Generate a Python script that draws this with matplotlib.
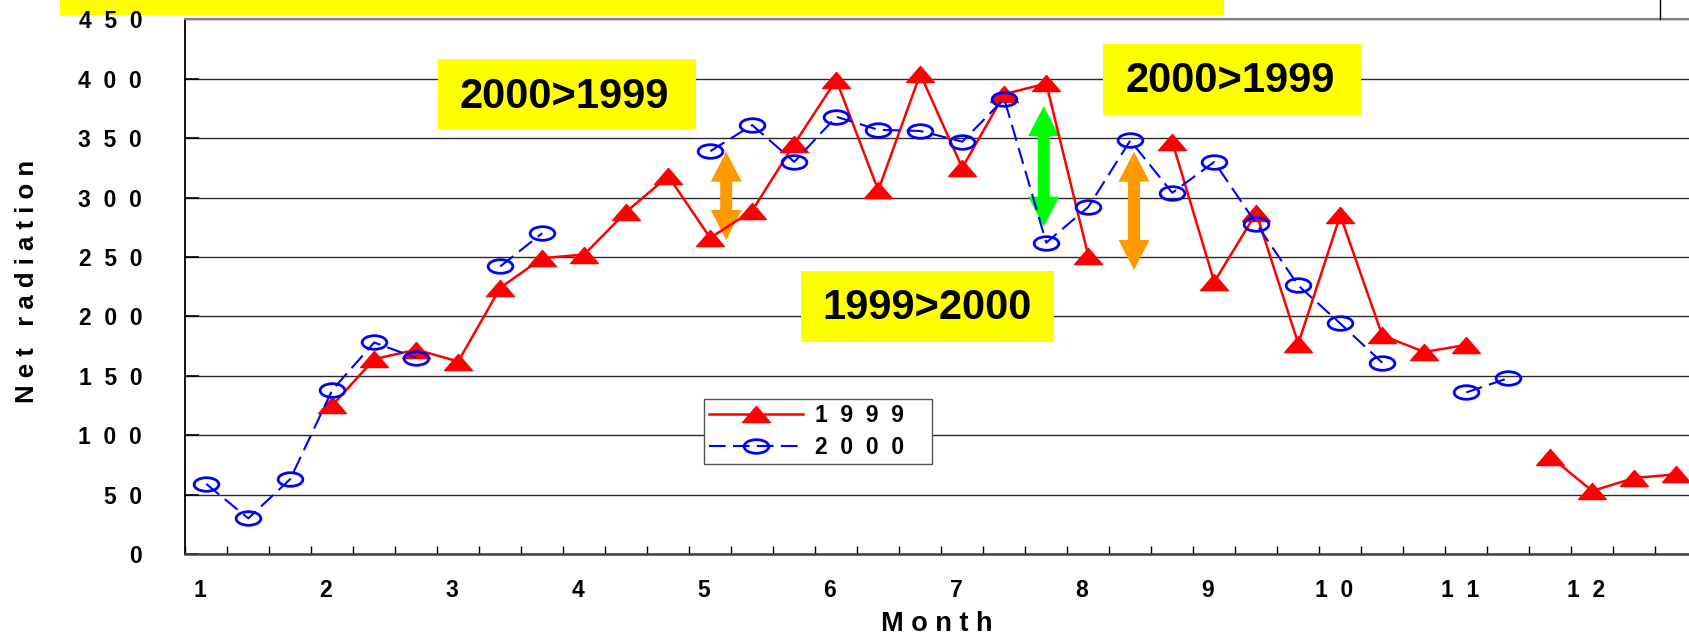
import numpy as np
import matplotlib
matplotlib.use("Agg")
import matplotlib.pyplot as plt
from matplotlib.path import Path
from matplotlib.patches import Rectangle, Polygon
from matplotlib.transforms import Affine2D
from matplotlib.lines import Line2D

plt.rcParams["font.family"] = ["Liberation Sans", "DejaVu Sans"]

nan = np.nan

# 36 dekads (10-day periods), Jan to Dec
dekads = np.arange(36)
month_labels = ["1", "2", "3", "4", "5", "6", "7", "8", "9", "1  0", "1  1", "1  2"]
ytick_values = [0, 50, 100, 150, 200, 250, 300, 350, 400, 450]
ytick_labels = ["0", "5  0", "1  0  0", "1  5  0", "2  0  0", "2  5  0",
                "3  0  0", "3  5  0", "4  0  0", "4  5  0"]

net_1999 = [nan, nan, nan, 125, 164, 172, 162, 224, 249, 252, 288, 318,
            266, 289, 345, 399, 306, 404, 325, 387, 396, 251, nan, 347,
            229, 287, 177, 285, 184, 170, 176, nan, 82, 53, 64, 67]
net_2000 = [59, 30, 63, 138, 178, 165, nan, 242, 270, nan, nan, nan,
            339, 361, 330, 368, 357, 356, 347, 383, 262, 292, 348, 304,
            330, 278, 226, 194, 161, nan, 136, 148, nan, nan, nan, nan]

fig = plt.figure(figsize=(16.9, 6.37), dpi=100)
# plot area runs past the right edge of the picture (cut off like the original)
ax = fig.add_axes([0.1096, 0.1303, 0.8947, 0.8394])

# flattened markers like the stretched original
tri = Path([(-1, -0.58), (1, -0.58), (0, 0.58), (-1, -0.58)],
           [Path.MOVETO, Path.LINETO, Path.LINETO, Path.CLOSEPOLY])
ell = Affine2D().scale(1, 0.55).transform_path(Path.unit_circle())

ax.plot(dekads, net_1999, color="red", lw=1.8, marker=tri, ms=20,
        mfc="red", mec="red", label="1  9  9  9", zorder=3)
ax.plot(dekads, net_2000, color="blue", lw=1.5, ls=(0, (8, 3.5)), marker=ell, ms=17.8,
        mfc="none", mec="blue", mew=2.0, label="2  0  0  0", zorder=3)

ax.set_xlim(-0.5, 35.5)
ax.set_ylim(0, 450)

ax.set_yticks(ytick_values)
ax.set_yticklabels(ytick_labels, fontweight="bold")
ax.set_xticks(dekads[::3] - 0.15)
ax.set_xticklabels(month_labels, fontweight="bold")
ax.set_xticks(np.arange(-0.5, 36, 1), minor=True)
ax.tick_params(axis="x", which="major", length=0, pad=18, labelsize=16.5)
ax.tick_params(axis="x", which="minor", direction="in", length=6, width=1, color="black")
ax.tick_params(axis="y", direction="in", length=10, width=1.2, pad=31, labelsize=16.5)

ax.yaxis.grid(True, color="#2a2a2a", lw=1.0)
ax.set_axisbelow(True)

ax.spines["right"].set_visible(False)
ax.spines["top"].set_color("#808080")
ax.spines["top"].set_linewidth(1.5)
ax.spines["left"].set_color("black")
ax.spines["left"].set_linewidth(1.3)
ax.spines["bottom"].set_color("#404040")
ax.spines["bottom"].set_linewidth(1.8)

ax.set_xlabel("M o n t h", fontsize=19.5, fontweight="bold", va="center")
ax.xaxis.set_label_coords(0.4972, -0.131)
ax.set_ylabel("N e t   r a d i a t i o n", fontsize=18.5, fontweight="bold", va="center")
ax.yaxis.set_label_coords(-0.1048, 0.51)


def double_arrow(x, y_top, y_bot, color):
    # vertical two-headed block arrow, sizes in pixels
    cx, yt = ax.transData.transform((x, y_top))
    _, yb = ax.transData.transform((x, y_bot))
    s, hw, hl = 6, 15.5, 30
    pts = [(cx, yt), (cx + hw, yt - hl), (cx + s, yt - hl), (cx + s, yb + hl),
           (cx + hw, yb + hl), (cx, yb), (cx - hw, yb + hl), (cx - s, yb + hl),
           (cx - s, yt - hl), (cx - hw, yt - hl)]
    ax.add_patch(Polygon(ax.transData.inverted().transform(pts), closed=True,
                         facecolor=color, edgecolor="none", zorder=2.5))


double_arrow(12.38, 338.6, 264.3, "#FF9900")
double_arrow(19.94, 377, 275.5, "#00FF00")
double_arrow(22.09, 338.6, 239, "#FF9900")


def yellow_note(x0, y0, x1, y1, tx, ty, text):
    ax.add_patch(Rectangle((x0, y0), x1 - x0, y1 - y0, transform=ax.transAxes,
                           facecolor="#FFFF00", edgecolor="none", zorder=4))
    ax.text(tx, ty, text, transform=ax.transAxes, ha="center", va="center",
            fontsize=30, fontweight="bold", color="black", zorder=5)


yellow_note(0.1672, 0.7943, 0.3380, 0.9252, 0.2508, 0.8547, "2000>1999")
yellow_note(0.6070, 0.8210, 0.7777, 0.9538, 0.6909, 0.8850, "2000>1999")
yellow_note(0.4070, 0.3970, 0.5743, 0.5293, 0.4908, 0.4601, "1999>2000")

leg = ax.legend(loc="upper left", bbox_to_anchor=(0.3433, 0.1707, 0.1505, 0.1197),
                mode="expand", borderaxespad=0,
                prop={"size": 16.5, "weight": "bold"}, handlelength=4.1,
                handletextpad=0.5, borderpad=0.22, labelspacing=0.4,
                fancybox=False, edgecolor="#555555", framealpha=1)
leg.get_frame().set_linewidth(1.0)

# bits of the slide around the chart
fig.add_artist(Rectangle((60 / 1690, 1 - 15 / 637), 1164 / 1690, 15 / 637,
                         transform=fig.transFigure, facecolor="#FFFF00",
                         edgecolor="none", zorder=-1))
fig.add_artist(Line2D([0.9822, 0.9822], [1.0, 0.9697], transform=fig.transFigure,
                      color="black", lw=1))

fig.savefig("out.png", dpi=100)
